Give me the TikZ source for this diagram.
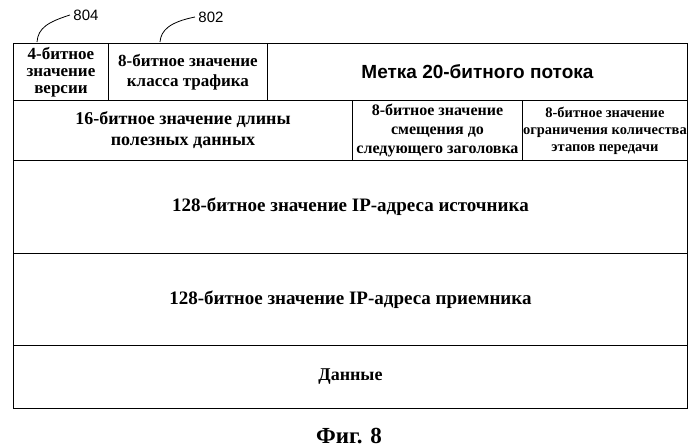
\documentclass[tikz,border=0pt]{standalone}
\usepackage{fontspec}
\setmainfont{Liberation Serif}
\newfontfamily\sansf{Liberation Sans}
\begin{document}
\begin{tikzpicture}[x=1pt,y=-1pt,
  cell/.style={draw,line width=0.9pt,anchor=north west,inner sep=0pt,align=center,font=\bfseries\fontsize{18}{21}\selectfont},
  lbl/.style={font=\sansf\fontsize{15}{17}\selectfont}]
\useasboundingbox (0,0) rectangle (698,447);
\node[cell,minimum width=95,minimum height=57,font=\bfseries\fontsize{17}{17}\selectfont] (ver) at (13,43) {4-битное\\значение\\версии};
\node[cell,minimum width=159,minimum height=57,font=\bfseries\fontsize{17}{20}\selectfont] (cls) at (108,43) {8-битное значение\\класса трафика};
\node[cell,minimum width=420,minimum height=57,font=\sansf\bfseries\fontsize{19}{22}\selectfont] (flow) at (267,43) {Метка 20-битного потока};
\node[cell,minimum width=339,minimum height=60] (len) at (13,100) {16-битное значение длины\\полезных данных};
\node[cell,minimum width=170,minimum height=60,font=\bfseries\fontsize{16}{19}\selectfont] (nxt) at (352,100) {8-битное значение\\смещения до\\следующего заголовка};
\node[cell,minimum width=165,minimum height=60,font=\bfseries\fontsize{14.5}{17}\selectfont] (hop) at (522,100) {8-битное значение\\ограничения количества\\этапов передачи};
\node[cell,minimum width=674,minimum height=93,font=\bfseries\fontsize{19}{22}\selectfont] (src) at (13,160) {128-битное значение IP-адреса источника};
\node[cell,minimum width=674,minimum height=92,font=\bfseries\fontsize{19}{22}\selectfont] (dst) at (13,253) {128-битное значение IP-адреса приемника};
\node[cell,minimum width=674,minimum height=63] (dat) at (13,345) {Данные};
\node[font=\bfseries\fontsize{23}{26}\selectfont] (cap) at (349,436) {Фиг. 8};
\node[lbl] (l804) at (86,15) {804};
\node[lbl] (l802) at (211,17) {802};
\coordinate (c804) at (37,42);
\coordinate (c802) at (160,42);
\draw[line width=0.8pt] (c804) .. controls (38,28) and (48,22) .. (l804.west);
\draw[line width=0.8pt] (c802) .. controls (161,30) and (170,22) .. (l802.west);
\end{tikzpicture}
\end{document}
